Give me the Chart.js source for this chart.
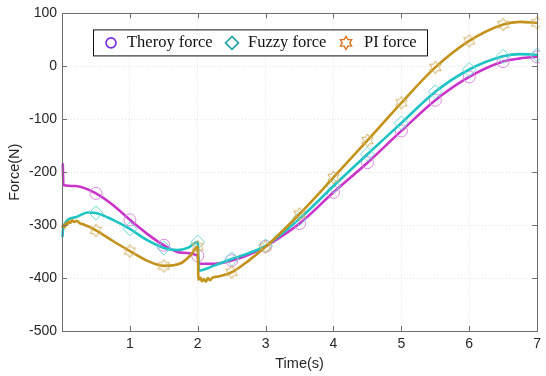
<!DOCTYPE html>
<html>
<head>
<meta charset="utf-8">
<script src="https://cdn.jsdelivr.net/npm/chart.js@4.4.1/dist/chart.umd.min.js"></script>
<style>
  html, body { margin: 0; padding: 0; background: #fff; }
  #wrap { width: 546px; height: 376px; }
</style>
</head>
<body>
<div id="wrap"><canvas id="forceChart"></canvas></div>
<script>
// force samples (N) against time (s), one pair of arrays per controller
const theoryTime  = [0.012, 0.02, 0.2, 0.5, 0.75, 1, 1.25, 1.5, 1.75, 2.0, 2.015, 2.25, 2.5, 2.75, 3, 3.5, 4, 4.5, 5, 5.5, 6, 6.5, 6.75, 7];
const theoryForce = [-185, -224, -226, -240, -262, -290, -316, -338, -352, -358, -373, -373, -367, -356, -340, -297, -238, -182, -122, -64, -20, 9, 15, 18];

const fuzzyTime  = [0.008, 0.02, 0.2, 0.38, 0.5, 0.75, 1, 1.25, 1.5, 1.7, 1.85, 2.0, 2.015, 2.25, 2.5, 2.75, 3, 3.5, 4, 4.5, 5, 5.5, 6, 6.5, 6.75, 7];
const fuzzyForce = [-321, -303, -285, -276, -277, -290, -307, -328, -343, -347, -343, -332, -386, -376, -364, -353, -339, -288, -226, -166, -107, -48, -6, 19, 23, 22];

const piTime  = [0.008, 0.02, 0.04, 0.06, 0.08, 0.1, 0.12, 0.15, 0.18, 0.22, 0.26, 0.3, 0.4, 0.5, 0.75, 1, 1.25, 1.5, 1.75, 1.9, 2.0,
                 2.01, 2.04, 2.06, 2.09, 2.12, 2.15, 2.18, 2.22, 2.3, 2.5, 2.75, 3, 3.5, 4, 4.5, 5, 5.5, 6, 6.5, 6.75, 7];
const piForce = [-303, -300, -304, -296, -299, -293, -296, -291, -294, -292, -296, -298, -303, -310, -330, -349, -367, -377, -372, -356, -341,
                 -403, -399, -406, -402, -407, -400, -404, -399, -397, -389, -367, -341, -279, -210, -140, -69, -2, 48, 79, 84, 82];

const seriesNames = ['Theroy force', 'Fuzzy force', 'PI force'];
const xRange = [0, 7];
const yRange = [-500, 100];

const TXT = '#262626';

// hexagram marker (MATLAB style six-point star outline)
function hexagram(size, color, lw) {
  const c = document.createElement('canvas');
  c.width = c.height = size;
  const g = c.getContext('2d');
  traceHexagram(g, size / 2, size / 2, size / 2 - lw);
  g.strokeStyle = color;
  g.lineWidth = lw;
  g.stroke();
  return c;
}
function traceHexagram(g, cx, cy, r) {
  g.beginPath();
  for (let i = 0; i < 12; i++) {
    const a = -Math.PI / 2 + i * Math.PI / 6;
    const rr = i % 2 === 0 ? r : r / Math.sqrt(3);
    const px = cx + rr * Math.cos(a), py = cy + rr * Math.sin(a);
    if (i === 0) g.moveTo(px, py); else g.lineTo(px, py);
  }
  g.closePath();
}

const starMark = hexagram(15, '#D2AE62', 1);

function toPoints(ts, fs) {
  return ts.map((t, i) => ({ x: t, y: fs[i] }));
}
// markers sit every 0.5 s
function isMark(ctx) {
  const t = ctx.raw ? ctx.raw.x : NaN;
  return t > 0 && Math.abs(t * 2 - Math.round(t * 2)) < 1e-6;
}

// box, inward ticks and legend drawn on top of the plot
const frame = {
  id: 'frame',
  afterDatasetsDraw(chart) {
    const { ctx, chartArea: a, scales } = chart;
    ctx.save();
    ctx.strokeStyle = '#6e6e6e';
    ctx.lineWidth = 1;
    ctx.beginPath();
    scales.x.ticks.forEach(tk => {
      const px = Math.round(scales.x.getPixelForValue(tk.value)) + 0.5;
      ctx.moveTo(px, a.bottom); ctx.lineTo(px, a.bottom - 5);
      ctx.moveTo(px, a.top); ctx.lineTo(px, a.top + 5);
    });
    scales.y.ticks.forEach(tk => {
      const py = Math.round(scales.y.getPixelForValue(tk.value)) + 0.5;
      ctx.moveTo(a.left, py); ctx.lineTo(a.left + 5, py);
      ctx.moveTo(a.right, py); ctx.lineTo(a.right - 5, py);
    });
    ctx.stroke();
    ctx.strokeRect(Math.round(a.left) + 0.5, Math.round(a.top) + 0.5,
                   Math.round(a.right - a.left), Math.round(a.bottom - a.top));

    // legend
    const bx = a.left + 31, by = a.top + 16, bw = 334, bh = 26;
    ctx.fillStyle = '#fff';
    ctx.fillRect(bx, by, bw, bh);
    ctx.strokeStyle = '#111';
    ctx.strokeRect(bx + 0.5, by + 0.5, bw, bh);
    const cy = by + bh / 2 + 0.5;
    ctx.lineWidth = 1.6;
    // circle
    ctx.strokeStyle = '#7A2BE2';
    ctx.beginPath(); ctx.arc(bx + 18, cy, 5, 0, Math.PI * 2); ctx.stroke();
    // diamond
    ctx.strokeStyle = '#1FA3A3';
    ctx.beginPath();
    ctx.moveTo(bx + 139, cy - 6.5); ctx.lineTo(bx + 145.5, cy);
    ctx.lineTo(bx + 139, cy + 6.5); ctx.lineTo(bx + 132.5, cy);
    ctx.closePath(); ctx.stroke();
    // hexagram
    ctx.strokeStyle = '#DE7420';
    ctx.lineWidth = 1.4;
    traceHexagram(ctx, bx + 253, cy, 6.5);
    ctx.stroke();

    ctx.fillStyle = '#111';
    ctx.font = '16.5px "Liberation Serif", "Times New Roman", serif';
    ctx.textBaseline = 'middle';
    ctx.fillText(seriesNames[0], bx + 34, cy);
    ctx.fillText(seriesNames[1], bx + 155, cy);
    ctx.fillText(seriesNames[2], bx + 271, cy);
    ctx.restore();
  }
};

const ctx = document.getElementById('forceChart').getContext('2d');
const chart = new Chart(ctx, {
  type: 'line',
  data: {
    datasets: [
      {
        label: seriesNames[0],
        data: toPoints(theoryTime, theoryForce),
        borderColor: '#C935C9',
        borderWidth: 2.6,
        order: 3,
        clip: { left: 3, right: 3, top: 0, bottom: 0 },
        pointStyle: 'circle',
        pointRadius: c => isMark(c) ? 6 : 0,
        pointBorderColor: '#D98BD9',
        pointBackgroundColor: 'rgba(0,0,0,0)',
        pointBorderWidth: 1
      },
      {
        label: seriesNames[1],
        data: toPoints(fuzzyTime, fuzzyForce),
        borderColor: '#1EC4C4',
        borderWidth: 2.6,
        order: 2,
        clip: { left: 3, right: 3, top: 0, bottom: 0 },
        pointStyle: 'rectRot',
        pointRadius: c => isMark(c) ? 7 : 0,
        pointBorderColor: '#72D8D8',
        pointBackgroundColor: 'rgba(0,0,0,0)',
        pointBorderWidth: 1
      },
      {
        label: seriesNames[2],
        data: toPoints(piTime, piForce),
        borderColor: '#C3921A',
        borderWidth: 2.6,
        order: 1,
        clip: { left: 3, right: 3, top: 0, bottom: 0 },
        pointStyle: starMark,
        pointRadius: c => isMark(c) ? 6 : 0,
        pointBorderWidth: 1
      }
    ]
  },
  options: {
    responsive: true,
    maintainAspectRatio: false,
    animation: false,
    events: [],
    layout: { padding: { top: 10, right: 4, left: 0, bottom: 0 } },
    elements: {
      line: { cubicInterpolationMode: 'monotone', fill: false, borderCapStyle: 'round', borderJoinStyle: 'round' }
    },
    plugins: {
      legend: { display: false },
      tooltip: { enabled: false }
    },
    scales: {
      x: {
        type: 'linear',
        min: xRange[0],
        max: xRange[1],
        afterFit: s => { s.height = 45; },
        ticks: {
          stepSize: 1,
          padding: 5,
          color: TXT,
          font: { family: '"Liberation Sans", Arial, sans-serif', size: 14 },
          callback: v => v === 0 ? '' : v
        },
        grid: { color: '#e4e4e4', lineWidth: 1, drawTicks: false },
        border: { display: false, dash: [1, 2] },
        title: {
          display: true,
          text: 'Time(s)',
          color: TXT,
          font: { family: '"Liberation Sans", Arial, sans-serif', size: 14.5 },
          padding: { top: 0, bottom: 3 }
        }
      },
      y: {
        min: yRange[0],
        max: yRange[1],
        afterFit: s => { s.width = 62; },
        ticks: {
          stepSize: 100,
          padding: 5,
          color: TXT,
          font: { family: '"Liberation Sans", Arial, sans-serif', size: 14 }
        },
        grid: { color: '#e4e4e4', lineWidth: 1, drawTicks: false },
        border: { display: false, dash: [1, 2] },
        title: {
          display: true,
          text: 'Force(N)',
          color: TXT,
          font: { family: '"Liberation Sans", Arial, sans-serif', size: 14.5 },
          padding: { top: 6, bottom: 0 }
        }
      }
    }
  },
  plugins: [frame]
});
</script>
</body>
</html>
